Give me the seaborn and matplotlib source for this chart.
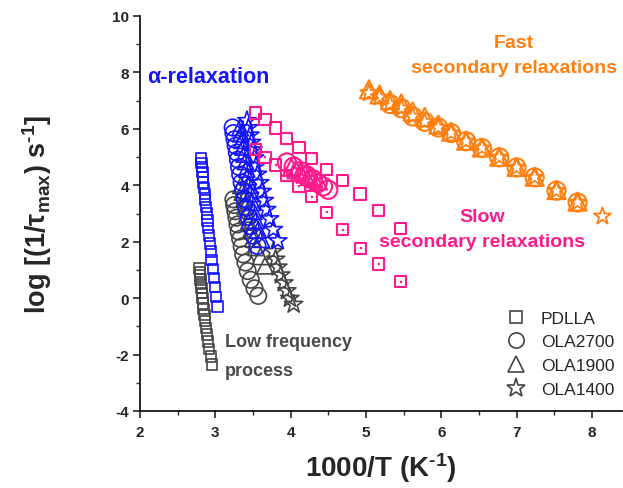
import matplotlib
matplotlib.use("Agg")
import matplotlib.pyplot as plt
import seaborn as sns
import pandas as pd
from matplotlib.lines import Line2D
from matplotlib.ticker import MultipleLocator

# ---------------- data ----------------
# alpha relaxation (blue)
pdlla_a_x = [2.81, 2.815, 2.82, 2.83, 2.835, 2.84, 2.85, 2.86, 2.865, 2.875, 2.885, 2.895, 2.905, 2.915, 2.925, 2.94, 2.95, 2.965, 2.98, 2.995, 3.01, 3.03]
pdlla_a_y = [4.95, 4.80, 4.64, 4.47, 4.29, 4.10, 3.90, 3.69, 3.47, 3.24, 3.00, 2.75, 2.49, 2.22, 1.94, 1.65, 1.35, 1.04, 0.72, 0.39, 0.05, -0.30]
ola2700_a_x = [3.23, 3.24, 3.255, 3.27, 3.285, 3.30, 3.315, 3.33, 3.35, 3.37, 3.39, 3.41, 3.44, 3.47, 3.51, 3.56]
ola2700_a_y = [6.05, 5.85, 5.63, 5.40, 5.16, 4.91, 4.65, 4.38, 4.10, 3.81, 3.51, 3.20, 2.88, 2.55, 2.21, 1.85]
ola1900_a_x = [3.33, 3.34, 3.355, 3.37, 3.385, 3.40, 3.415, 3.43, 3.45, 3.47, 3.49, 3.51, 3.54, 3.57, 3.61]
ola1900_a_y = [6.05, 5.83, 5.60, 5.36, 5.11, 4.85, 4.58, 4.30, 4.01, 3.71, 3.40, 3.08, 2.75, 2.42, 2.09]
ola1400_a_x = [3.42, 3.44, 3.46, 3.48, 3.50, 3.52, 3.54, 3.56, 3.59, 3.62, 3.65, 3.68, 3.72, 3.77, 3.83]
ola1400_a_y = [6.29, 6.04, 5.78, 5.52, 5.25, 4.97, 4.68, 4.39, 4.09, 3.78, 3.46, 3.14, 2.81, 2.43, 2.03]

# low frequency process (gray)
pdlla_l_x = [2.79, 2.795, 2.80, 2.805, 2.81, 2.815, 2.82, 2.83, 2.835, 2.845, 2.855, 2.865, 2.875, 2.89, 2.90, 2.92, 2.94, 2.96]
pdlla_l_y = [1.05, 0.93, 0.80, 0.66, 0.51, 0.35, 0.18, 0.00, -0.19, -0.39, -0.60, -0.82, -1.05, -1.29, -1.54, -1.80, -2.07, -2.35]
ola2700_l_x = [3.24, 3.25, 3.265, 3.28, 3.295, 3.31, 3.33, 3.35, 3.37, 3.40, 3.43, 3.47, 3.52, 3.57]
ola2700_l_y = [3.50, 3.30, 3.08, 2.85, 2.61, 2.36, 2.10, 1.83, 1.55, 1.26, 0.96, 0.65, 0.35, 0.08]
ola1900_l_x = [3.34, 3.36, 3.38, 3.40, 3.42, 3.44, 3.47, 3.50, 3.54, 3.60, 3.66]
ola1900_l_y = [4.00, 3.76, 3.51, 3.25, 2.98, 2.70, 2.41, 2.11, 1.80, 1.48, 1.15]
ola1400_l_x = [3.77, 3.80, 3.83, 3.87, 3.91, 3.95, 3.99, 4.04]
ola1400_l_y = [1.65, 1.38, 1.10, 0.82, 0.54, 0.26, -0.01, -0.22]

# slow secondary relaxations (pink)
pdlla_s1_x = [3.53, 3.66, 3.80, 3.95, 4.11, 4.28, 4.48, 4.69, 4.92, 5.17, 5.46]
pdlla_s1_y = [6.56, 6.32, 6.03, 5.67, 5.34, 4.96, 4.57, 4.16, 3.69, 3.12, 2.48]
pdlla_s2_x = [3.53, 3.66, 3.80, 3.95, 4.11, 4.28, 4.48, 4.69, 4.93, 5.17, 5.46]
pdlla_s2_y = [5.26, 4.99, 4.72, 4.35, 3.96, 3.59, 3.04, 2.42, 1.76, 1.21, 0.58]
ola2700_s_x = [3.95, 4.04, 4.13, 4.21, 4.29, 4.36, 4.43, 4.50]
ola2700_s_y = [4.81, 4.66, 4.50, 4.36, 4.22, 4.08, 3.96, 3.84]
ola1900_s_x = [4.01, 4.07, 4.13, 4.19, 4.25, 4.31, 4.37]
ola1900_s_y = [4.63, 4.55, 4.47, 4.39, 4.31, 4.23, 4.15]

# fast secondary relaxations (orange)
ola1400_f_x = [5.04, 5.18, 5.32, 5.47, 5.62, 5.78, 5.96, 6.13, 6.33, 6.54, 6.77, 7.00, 7.24, 7.53, 7.81, 8.14]
ola1400_f_y = [7.27, 7.12, 6.88, 6.73, 6.44, 6.25, 6.05, 5.85, 5.56, 5.32, 4.99, 4.63, 4.28, 3.81, 3.39, 2.90]
ola2700_f_x = [5.32, 5.47, 5.62, 5.78, 5.96, 6.13, 6.33, 6.54, 6.77, 7.00, 7.24, 7.53, 7.81]
ola2700_f_y = [6.88, 6.73, 6.44, 6.25, 6.05, 5.85, 5.56, 5.32, 4.99, 4.63, 4.28, 3.81, 3.39]
ola1900_f_x = [5.04, 5.18, 5.32, 5.47, 5.62, 5.78, 5.96, 6.13, 6.33, 6.54, 6.77, 7.00, 7.24, 7.53, 7.81]
ola1900_f_y = [7.40, 7.22, 7.02, 6.90, 6.62, 6.42, 6.15, 5.90, 5.58, 5.34, 5.01, 4.65, 4.30, 3.83, 3.42]

legend_labels = ["PDLLA", "OLA2700", "OLA1900", "OLA1400"]

# ---------------- style ----------------
sns.set_theme(style="ticks")
plt.rcParams['font.family'] = ['Liberation Sans', 'DejaVu Sans']
plt.rcParams['axes.unicode_minus'] = False
plt.rcParams['mathtext.fontset'] = 'custom'
plt.rcParams['mathtext.rm'] = 'Liberation Sans:bold'
plt.rcParams['mathtext.bf'] = 'Liberation Sans:bold'
plt.rcParams['mathtext.it'] = 'Liberation Sans:bold'
plt.rcParams['mathtext.default'] = 'bf'

BLUE = '#1414ff'
GRAY = '#454545'
PINK = '#ff1a8c'
ORANGE = '#ff8010'

fig = plt.figure(figsize=(6.23, 4.89), dpi=100)
ax = fig.add_axes([140/623, 77/489, 482/623, 395/489])


def open_scatter(xs, ys, marker, size, color, lw=1.2, zorder=3):
    df = pd.DataFrame({"x": xs, "y": ys})
    n = len(ax.collections)
    sns.scatterplot(data=df, x="x", y="y", marker=marker, s=size, ax=ax,
                    legend=False, zorder=zorder)
    coll = ax.collections[n]
    coll.set_facecolor('none')
    coll.set_edgecolor(color)
    coll.set_linewidth(lw)
    return coll

# low frequency (gray)
open_scatter(pdlla_l_x, pdlla_l_y, 's', 55, GRAY)
open_scatter(ola2700_l_x, ola2700_l_y, 'o', 140, GRAY)
open_scatter(ola1900_l_x, ola1900_l_y, '^', 140, GRAY)
open_scatter(ola1400_l_x, ola1400_l_y, '*', 190, GRAY)

# alpha (blue)
open_scatter(pdlla_a_x, pdlla_a_y, 's', 55, BLUE)
open_scatter(ola2700_a_x, ola2700_a_y, 'o', 140, BLUE)
open_scatter(ola1900_a_x, ola1900_a_y, '^', 140, BLUE)
open_scatter(ola1400_a_x, ola1400_a_y, '*', 190, BLUE)

# slow secondary (pink)
open_scatter(pdlla_s1_x, pdlla_s1_y, 's', 65, PINK, lw=1.5)
open_scatter(pdlla_s2_x, pdlla_s2_y, 's', 65, PINK, lw=1.5)
sns.scatterplot(x=pdlla_s2_x, y=pdlla_s2_y, marker='s', s=3, color=PINK,
                edgecolor=PINK, ax=ax, legend=False, zorder=4)
open_scatter(ola2700_s_x, ola2700_s_y, 'o', 170, PINK, lw=1.5)
open_scatter(ola1900_s_x, ola1900_s_y, '^', 150, PINK, lw=1.5)

# fast secondary (orange)
open_scatter(ola2700_f_x, ola2700_f_y, 'o', 170, ORANGE, lw=1.5)
open_scatter(ola1900_f_x, ola1900_f_y, '^', 170, ORANGE, lw=1.5)
open_scatter(ola1400_f_x, ola1400_f_y, '*', 170, ORANGE, lw=1.3)

# ---------------- axes ----------------
ax.set_xlim(2, 8.4)
ax.set_ylim(-4, 10)
ax.xaxis.set_major_locator(MultipleLocator(1))
ax.xaxis.set_minor_locator(MultipleLocator(0.5))
ax.yaxis.set_major_locator(MultipleLocator(2))
ax.yaxis.set_minor_locator(MultipleLocator(1))
ax.tick_params(which='major', direction='out', length=5, width=1.2, labelsize=11, pad=3)
ax.tick_params(axis='x', which='major', pad=5)
ax.tick_params(which='minor', direction='out', length=3, width=1.0)
for lab in ax.get_xticklabels() + ax.get_yticklabels():
    lab.set_fontweight('bold')
for s in ['top', 'right']:
    ax.spines[s].set_visible(False)
for s in ['left', 'bottom']:
    ax.spines[s].set_linewidth(1.2)
    ax.spines[s].set_color('black')

ax.set_xlabel(r'1000/T (K$^{\text{-}1}$)', fontsize=20, fontweight='bold', labelpad=8)
ax.set_ylabel(r'log [(1/τ$_{max}$) s$^{\text{-}1}$]', fontsize=19.5, fontweight='bold', labelpad=42)

# ---------------- annotations ----------------
ax.text(2.1, 7.85, 'α-relaxation', color=BLUE, fontsize=15.5, fontweight='bold', va='center')
ax.text(6.97, 9.05, 'Fast', color=ORANGE, fontsize=14, fontweight='bold', ha='center', va='center')
ax.text(6.97, 8.17, 'secondary relaxations', color=ORANGE, fontsize=14, fontweight='bold', ha='center', va='center')
ax.text(6.54, 2.91, 'Slow', color=PINK, fontsize=14, fontweight='bold', ha='center', va='center')
ax.text(6.54, 1.99, 'secondary relaxations', color=PINK, fontsize=14, fontweight='bold', ha='center', va='center')
ax.text(3.13, -1.55, 'Low frequency', color='#4a4a4a', fontsize=13, fontweight='bold', va='center')
ax.text(3.13, -2.55, 'process', color='#4a4a4a', fontsize=13, fontweight='bold', va='center')

# ---------------- legend ----------------
handles = [
    Line2D([], [], marker='s', ls='none', mfc='none', mec=GRAY, ms=8, mew=1.2),
    Line2D([], [], marker='o', ls='none', mfc='none', mec=GRAY, ms=11, mew=1.2),
    Line2D([], [], marker='^', ls='none', mfc='none', mec=GRAY, ms=11, mew=1.2),
    Line2D([], [], marker='*', ls='none', mfc='none', mec=GRAY, ms=14, mew=1.2),
]
ax.legend(handles, legend_labels, loc='upper left', bbox_to_anchor=(0.745, 0.272),
          frameon=False, fontsize=12.5, handletextpad=0.8, labelspacing=0.5,
          borderaxespad=0, handlelength=1.2)

fig.savefig('out.png', dpi=100)
